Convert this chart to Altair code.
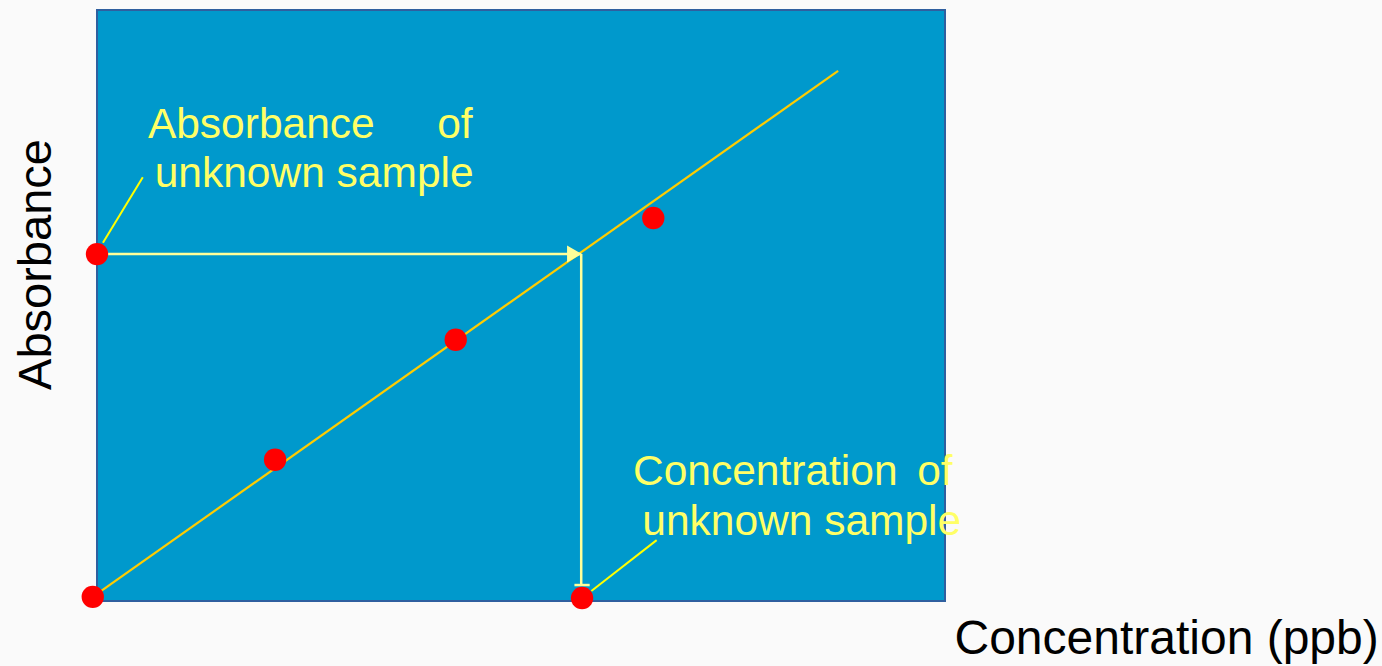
import altair as alt
import pandas as pd

# Calibration standards (concentration, absorbance)
calib_conc = [-0.05, 2.10, 4.23, 6.56]
calib_abs = [0.07, 2.39, 4.42, 6.48]

unknown_abs = 5.87
unknown_conc = 5.72

# Calibration line end points
fit_conc = [-0.05, 8.74]
fit_abs = [0.07, 8.97]

# Leader lines from the callouts to the marked points
leader_x = [0.07, 5.83]
leader_y = [6.06, 0.17]
leader_x2 = [0.54, 6.60]
leader_y2 = [7.17, 1.03]

# Callout texts
left_texts = ["Absorbance", "unknown sample", "Concentration", "unknown sample"]
left_x = [0.60, 0.68, 6.32, 6.43]
left_y = [7.83, 7.00, 1.96, 1.12]
right_texts = ["of", "of"]
right_x = [4.43, 10.09]
right_y = [7.83, 1.96]

W, H = 848, 591
BLUE = "#0099cc"
FIT = "#ffcc00"
ARROW = "#ffff99"
LEAD = "#ffff00"
LABEL = "#ffff66"
FONT = "Liberation Sans"

x_axis = alt.Axis(
    title="Concentration (ppb)", domain=False, ticks=False, labels=False, grid=False,
    titleFont=FONT, titleFontSize=48, titleFontWeight="normal", titleColor="black",
    titleAngle=0, titleAlign="left", titleBaseline="alphabetic", titleX=857, titleY=52,
)
y_axis = alt.Axis(
    title="Absorbance", domain=False, ticks=False, labels=False, grid=False,
    titleFont=FONT, titleFontSize=47, titleFontWeight="normal", titleColor="black",
    titleAngle=270, titleAlign="center", titleBaseline="alphabetic", titleX=-47, titleY=254,
)
xs = alt.Scale(domain=[0, 10], nice=False, zero=False)
ys = alt.Scale(domain=[0, 10], nice=False, zero=False)


def X(field="x"):
    return alt.X(f"{field}:Q", scale=xs, axis=x_axis)


def Y(field="y"):
    return alt.Y(f"{field}:Q", scale=ys, axis=y_axis)


fit_df = pd.DataFrame({"x": fit_conc, "y": fit_abs})
fit_line = alt.Chart(fit_df).mark_line(color=FIT, strokeWidth=2.2).encode(x=X(), y=Y())

# Horizontal arrow from the absorbance axis to the line, then down to the x axis
arrow_df = pd.DataFrame({
    "x": [0.0, unknown_conc - 0.01, unknown_conc - 0.09],
    "y": [unknown_abs, unknown_abs, 0.27],
    "x2": [unknown_conc - 0.01, unknown_conc - 0.01, unknown_conc + 0.09],
    "y2": [unknown_abs, 0.27, 0.27],
})
arrows = alt.Chart(arrow_df).mark_rule(color=ARROW, strokeWidth=2.5).encode(
    x=X(), y=Y(), x2="x2:Q", y2="y2:Q"
)
head_df = pd.DataFrame({"x": [unknown_conc - 0.09], "y": [unknown_abs]})
head = alt.Chart(head_df).mark_point(
    shape="triangle-right", size=290, filled=True, color=ARROW, opacity=1
).encode(x=X(), y=Y())

lead_df = pd.DataFrame({"x": leader_x, "y": leader_y, "x2": leader_x2, "y2": leader_y2})
leaders = alt.Chart(lead_df).mark_rule(color=LEAD, strokeWidth=2).encode(
    x=X(), y=Y(), x2="x2:Q", y2="y2:Q"
)

pts_df = pd.DataFrame({
    "x": calib_conc + [0.0, unknown_conc],
    "y": calib_abs + [unknown_abs, 0.05],
})
points = alt.Chart(pts_df).mark_circle(size=500, color="#ff0000", opacity=1).encode(x=X(), y=Y())

lt_df = pd.DataFrame({"x": left_x, "y": left_y, "t": left_texts})
lt = alt.Chart(lt_df).mark_text(
    align="left", baseline="alphabetic", font=FONT, fontSize=42.5, color=LABEL
).encode(x=X(), y=Y(), text="t:N")
rt_df = pd.DataFrame({"x": right_x, "y": right_y, "t": right_texts})
rt = alt.Chart(rt_df).mark_text(
    align="right", baseline="alphabetic", font=FONT, fontSize=42.5, color=LABEL
).encode(x=X(), y=Y(), text="t:N")

chart = alt.layer(fit_line, arrows, head, leaders, points, lt, rt).properties(
    width=W, height=H,
    autosize="none",
    padding={"left": 97, "top": 10, "right": 437, "bottom": 65},
).configure(background="#fafafa").configure_view(
    fill=BLUE, stroke="#2f5f9f", strokeWidth=2
)

chart.save("out.html", embed_options={"renderer": "svg", "actions": False})
